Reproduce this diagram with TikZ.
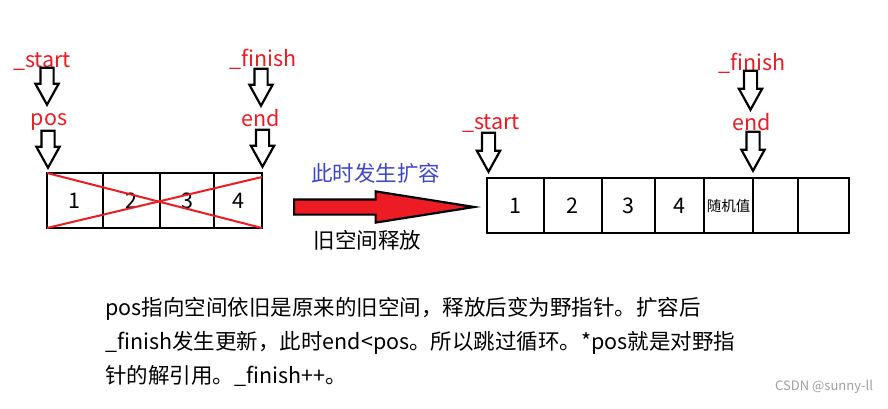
\documentclass[tikz,border=0pt]{standalone}
\usepackage{fontspec}
\setmainfont{Noto Sans CJK SC}
\usetikzlibrary{positioning, shapes.arrows}

\definecolor{paintred}{RGB}{237,28,36}
\definecolor{paintblue}{RGB}{63,72,204}

\begin{document}
\begin{tikzpicture}[
    x=1pt, y=-1pt,
    every node/.style={font=\fontsize{21.5}{26}\selectfont},
    cell/.style={draw, line width=1.9pt, minimum height=55pt, inner sep=0pt, outer sep=0pt},
    ptrname/.style={text=paintred, anchor=base, inner sep=0pt},
    ptr/.style={single arrow, draw, fill=white, line width=2.2pt, shape border rotate=270,
        minimum height=37pt, single arrow head extend=5pt,
        single arrow tip angle=58, inner sep=5.5pt, anchor=tip},
    note/.style={anchor=base west, inner sep=0pt}
]
    \fill[white] (0,0) rectangle (888,409);
    \useasboundingbox (0,0) rectangle (888,409);

    % old space
    \node[cell, minimum width=55.7pt, anchor=north west] (o1) at (47,173) {1};
    \node[cell, minimum width=57.3pt, right=0pt of o1] (o2) {2};
    \node[cell, minimum width=54pt, right=0pt of o2] (o3) {3};
    \node[cell, minimum width=48pt, right=0pt of o3] (o4) {4};
    \draw[paintred, line width=2pt] (o1.north west) -- (o4.south east);
    \draw[paintred, line width=2pt] (o1.south west) -- ([yshift=-4pt]o4.north east);

    \node[ptrname] (start1) at (42,68) {\_start};
    \node[ptr] (a1) at (47,107) {};
    \node[ptrname] (pos1) at (49,125) {pos};
    \node[ptr] (a2) at (48,170) {};
    \node[ptrname] (finish1) at (263,67) {\_finish};
    \node[ptr] (a3) at (261,108) {};
    \node[ptrname] (end1) at (261,126) {end};
    \node[ptr] (a4) at (262.5,169) {};

    % expansion
    \node[text=paintblue, anchor=base, inner sep=0pt] (expand) at (375.5,181.5) {此时发生扩容};
    \node[single arrow, draw, fill=paintred, line width=2.2pt, minimum height=180pt,
        single arrow head extend=8pt, single arrow tip angle=18,
        inner sep=6.5pt, anchor=tail] (grow) at (293,207) {};
    \node[anchor=base, inner sep=0pt] (release) at (367.5,248.5) {旧空间释放};

    % new space
    \node[cell, minimum width=57pt, anchor=north west] (n1) at (487,178.3) {1};
    \node[cell, minimum width=57.7pt, right=0pt of n1] (n2) {2};
    \node[cell, minimum width=53.3pt, right=0pt of n2] (n3) {3};
    \node[cell, minimum width=49pt, right=0pt of n3] (n4) {4};
    \node[cell, minimum width=49.3pt, right=0pt of n4, font=\fontsize{14.5}{16}\selectfont] (n5) {随机值};
    \node[cell, minimum width=45pt, right=0pt of n5] (n6) {};
    \node[cell, minimum width=51pt, right=0pt of n6] (n7) {};

    \node[ptrname] (start2) at (491,129.3) {\_start};
    \node[ptr, minimum height=39pt] (a5) at (488.5,174) {};
    \node[ptrname] (finish2) at (752,70.7) {\_finish};
    \node[ptr, minimum height=39pt] (a6) at (750.5,112) {};
    \node[ptrname] (end2) at (751.5,130) {end};
    \node[ptr, minimum height=39pt] (a7) at (753,173) {};

    % explanation
    \node[note] (line1) at (105,315) {pos指向空间依旧是原来的旧空间，释放后变为野指针。扩容后};
    \node[note] (line2) at (105,349) {\_finish发生更新，此时end<pos。所以跳过循环。*pos就是对野指};
    \node[note] (line3) at (105,383.5) {针的解引用。\_finish++。};

    \node[anchor=base west, inner sep=0pt, text=gray!75, font=\fontsize{13}{15}\selectfont] (mark) at (775,390.5) {CSDN @sunny-ll};
\end{tikzpicture}
\end{document}
